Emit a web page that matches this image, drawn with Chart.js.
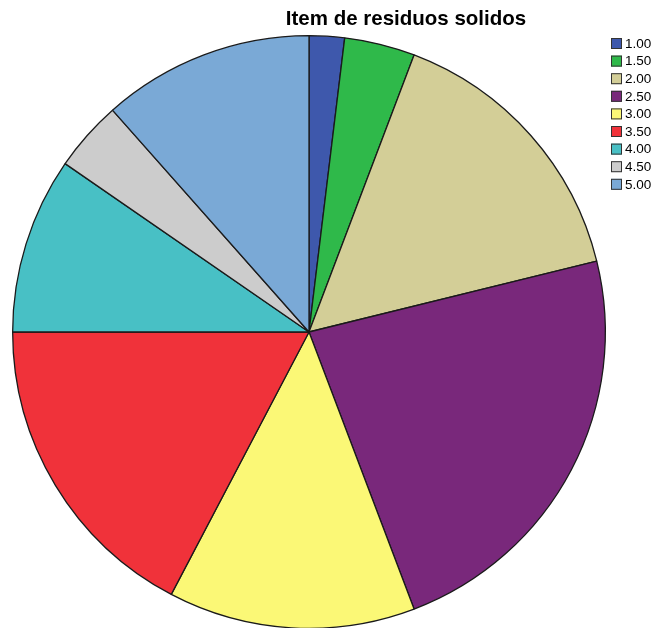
<!DOCTYPE html>
<html>
<head>
<meta charset="utf-8">
<script src="https://cdn.jsdelivr.net/npm/chart.js@4"></script>
<style>
  html, body { margin: 0; padding: 0; background: #fff; overflow: hidden; }
  #wrap { position: relative; width: 654px; height: 640px; }
</style>
</head>
<body>
<div id="wrap"><canvas id="pieChart" width="654" height="640"></canvas></div>
<script>
const chartTitle = 'Item de residuos solidos';
const categories = ['1.00', '1.50', '2.00', '2.50', '3.00', '3.50', '4.00', '4.50', '5.00'];
const counts = [1, 2, 8, 12, 7, 9, 5, 2, 6];
const sliceColors = ['#3e58ac', '#2fb94a', '#d3ce97', '#79287b', '#fbf876', '#f0323a', '#48c0c5', '#cccccc', '#7aa9d6'];

// title and legend are painted by hand so the pie keeps its own position
const extrasPlugin = {
  id: 'extras',
  afterDraw(chart) {
    const ctx = chart.ctx;
    ctx.save();
    ctx.fillStyle = '#000';
    ctx.font = 'bold 20.5px "Liberation Sans", Arial, sans-serif';
    ctx.textAlign = 'center';
    ctx.textBaseline = 'middle';
    ctx.fillText(chartTitle, 406, 19);

    ctx.font = '13.5px "Liberation Sans", Arial, sans-serif';
    ctx.textAlign = 'left';
    chart.data.labels.forEach((label, i) => {
      const y = 38 + i * 17.6;
      ctx.fillStyle = chart.data.datasets[0].backgroundColor[i];
      ctx.fillRect(611, y, 11, 11);
      ctx.strokeStyle = '#333';
      ctx.lineWidth = 1;
      ctx.strokeRect(611.5, y + 0.5, 10, 10);
      ctx.fillStyle = '#000';
      ctx.fillText(label, 625, y + 6);
    });
    ctx.restore();
  }
};

const ctx = document.getElementById('pieChart').getContext('2d');
new Chart(ctx, {
  type: 'pie',
  data: {
    labels: categories,
    datasets: [{
      data: counts,
      backgroundColor: sliceColors,
      borderColor: '#1a1a1a',
      borderWidth: 1.3
    }]
  },
  options: {
    responsive: false,
    animation: false,
    layout: { padding: { left: 12, right: 48, top: 35, bottom: 11 } },
    plugins: {
      legend: { display: false },
      tooltip: { enabled: false }
    }
  },
  plugins: [extrasPlugin]
});
</script>
</body>
</html>
